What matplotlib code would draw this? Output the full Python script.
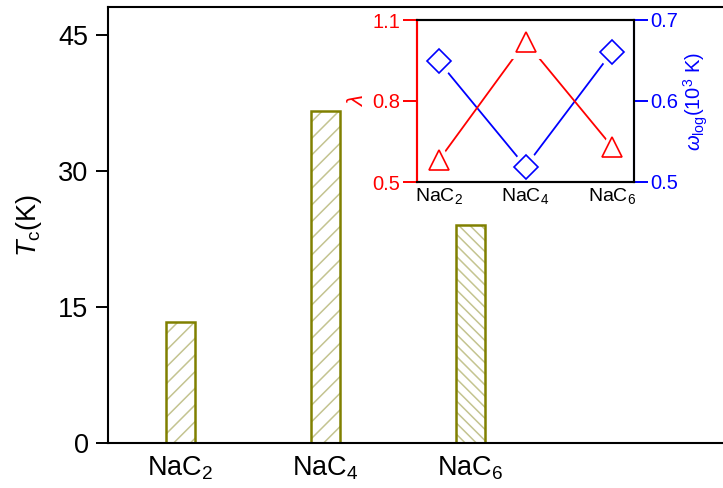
import matplotlib
matplotlib.use('Agg')
import matplotlib.pyplot as plt
import numpy as np

plt.rcParams['font.family'] = ['Liberation Sans', 'DejaVu Sans']
plt.rcParams['mathtext.fontset'] = 'custom'
plt.rcParams['mathtext.rm'] = 'Liberation Sans'
plt.rcParams['mathtext.it'] = 'Liberation Sans:italic'
plt.rcParams['hatch.linewidth'] = 1.1

# data
labels = ['NaC$_2$', 'NaC$_4$', 'NaC$_6$']
tc = [13.3, 36.6, 24.0]
hatches = ['//', '//', '\\\\\\']
lam = [0.58, 1.02, 0.63]
wlog = [0.649, 0.519, 0.661]

edge = '#808000'
hatch_col = '#c4c490'

fig = plt.figure(figsize=(7.23, 4.88), dpi=100)
ax = fig.add_axes([108/723, 45/488, 652/723, 436/488])

x = np.arange(len(tc))
for i in range(len(tc)):
    ax.bar(x[i], tc[i], width=0.2, color='white', edgecolor=hatch_col,
           hatch=hatches[i], linewidth=0)
    ax.bar(x[i], tc[i], width=0.2, fill=False, edgecolor=edge, linewidth=1.8)

ax.set_xlim(-0.5, 4.0)
ax.set_ylim(0, 48.1)
ax.set_yticks([0, 15, 30, 45])
ax.set_xticks(x)
ax.set_xticklabels(labels)
ax.tick_params(axis='y', direction='out', length=9, width=1.4, labelsize=19.5, pad=5)
ax.tick_params(axis='x', length=0, labelsize=19.5, pad=8)
for s in ax.spines.values():
    s.set_linewidth(1.5)
ax.set_ylabel(r'$T_\mathrm{c}$(K)', fontsize=19.5, labelpad=10)

# inset
ins = fig.add_axes([417/723, (488-182)/488, 217/723, 162/488])
xi = np.arange(len(lam))
ins.plot(xi, lam, color='red', lw=1.3, zorder=1)
ins.plot(xi, lam, ls='none', marker='^', ms=19, mfc='white', mec='white', mew=5, zorder=2)
ins.plot(xi, lam, ls='none', marker='^', ms=15, mfc='white', mec='red', mew=1.2, zorder=3)
ins.set_xlim(-0.25, 2.25)
ins.set_ylim(0.5, 1.1)
ins.set_yticks([0.5, 0.8, 1.1])
ins.set_xticks(xi)
ins.set_xticklabels(labels)
ins.tick_params(axis='x', length=0, labelsize=14, pad=3)
ins.tick_params(axis='y', colors='red', length=10, width=1.4, labelsize=14.5, pad=2)
ins.set_ylabel(r'$\lambda$', color='red', fontsize=16, labelpad=3)
ins.spines['left'].set_color('red')
for s in ins.spines.values():
    s.set_linewidth(1.5)

ins2 = ins.twinx()
ins2.plot(xi, wlog, color='blue', lw=1.3, zorder=1)
ins2.plot(xi, wlog, ls='none', marker='D', ms=15, mfc='white', mec='white', mew=5, zorder=2)
ins2.plot(xi, wlog, ls='none', marker='D', ms=12, mfc='white', mec='blue', mew=1.2, zorder=3)
ins2.set_ylim(0.5, 0.7)
ins2.set_yticks([0.5, 0.6, 0.7])
ins2.tick_params(axis='y', colors='blue', length=10, width=1.4, labelsize=14.5, pad=2)
ins2.set_ylabel(r'$\omega_\mathrm{log}$(10$^3$ K)', color='blue', fontsize=14.5, labelpad=2)
ins2.spines['right'].set_color('blue')
ins2.spines['left'].set_color('red')
for s in ins2.spines.values():
    s.set_linewidth(1.5)
ins.set_zorder(ins2.get_zorder() + 1)
ins.patch.set_visible(False)
ins2.patch.set_facecolor('white')

fig.savefig('out.png', dpi=100)
